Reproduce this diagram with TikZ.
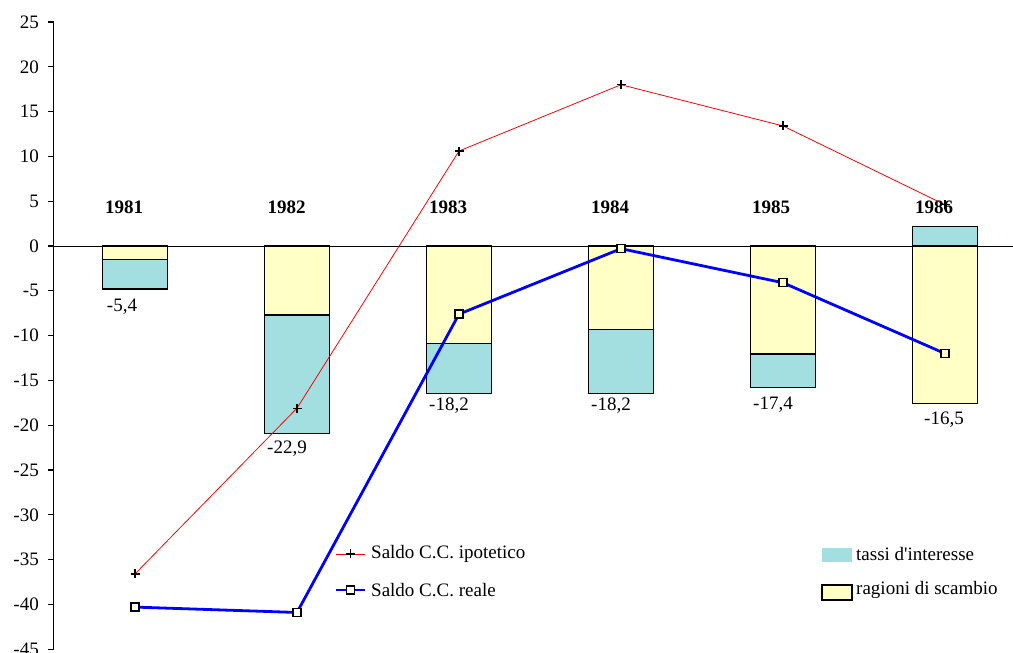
\documentclass[tikz,border=0pt]{standalone}
\usepackage{fontspec}
\setmainfont{Liberation Serif}
\definecolor{cyanfill}{RGB}{163,223,224}
\definecolor{yelfill}{RGB}{255,255,198}
\tikzset{
  lbl/.style={font=\fontsize{19}{22}\selectfont, inner sep=0pt},
  yearlbl/.style={font=\fontsize{19}{22}\selectfont\bfseries, inner sep=0pt},
  cbarbox/.style={draw=black, line width=1.2pt, fill=cyanfill},
  ybarbox/.style={draw=black, line width=1.2pt, fill=yelfill},
  axisline/.style={black, line width=1.2pt},
  zeroline/.style={black, line width=0.9pt},
  ipo/.style={red, line width=0.8pt},
  reale/.style={blue, line width=2.8pt, line join=round},
  plusmk/.style={black, line width=1.3pt},
  sqmk/.style={draw=black, line width=1.4pt, minimum size=8pt, inner sep=0pt, shape=rectangle},
}
\begin{document}
\begin{tikzpicture}[x=1pt,y=8.96pt]
\useasboundingbox (0,-45.424) rectangle (1013,27.455);
% bars
\foreach \c/\yb/\yc in {135/-1.5/-4.8, 297/-7.7/-20.9, 459/-10.9/-16.5, 621/-9.3/-16.5, 783/-12.05/-15.8} {
  \draw[ybarbox] (\c-32.5,0) rectangle (\c+32.5,\yb);
  \draw[cbarbox] (\c-32.5,\yb) rectangle (\c+32.5,\yc);
}
\draw[ybarbox] (912.5,0) rectangle (977.5,-17.6);
\draw[cbarbox] (912.5,0) rectangle (977.5,2.2);
% axes
\draw[axisline] (53.5,-45) -- (53.5,25);
\foreach \v in {25,20,...,-45} {
  \draw[axisline] (48,\v) -- (53.5,\v);
  \node[lbl, anchor=east] at (39,\v) {\v};
}
\draw[zeroline] (53.5,0) -- (1013,0);
% data points
\coordinate (h1) at (135,-36.6);
\coordinate (h2) at (297,-18.1);
\coordinate (h3) at (459,10.6);
\coordinate (h4) at (621,18.0);
\coordinate (h5) at (783,13.4);
\coordinate (h6) at (945,4.6);
\coordinate (r1) at (135,-40.3);
\coordinate (r2) at (297,-40.9);
\coordinate (r3) at (459,-7.6);
\coordinate (r4) at (621,-0.3);
\coordinate (r5) at (783,-4.1);
\coordinate (r6) at (945,-12.0);
% hypothetical balance
\draw[ipo] (h1) -- (h2) -- (h3) -- (h4) -- (h5) -- (h6);
\foreach \p in {h1,h2,h3,h4,h5,h6} {
  \draw[plusmk] ([xshift=-4.5pt]\p) -- ([xshift=4.5pt]\p) ([yshift=-4.5pt]\p) -- ([yshift=4.5pt]\p);
}
% real balance
\draw[reale] (r1) -- (r2) -- (r3) -- (r4) -- (r5) -- (r6);
\node[sqmk, fill=white] (m1) at (r1) {};
\node[sqmk, fill=white] (m2) at (r2) {};
\node[sqmk, fill=yelfill] (m3) at (r3) {};
\node[sqmk, fill=yelfill] (m4) at (r4) {};
\node[sqmk, fill=yelfill] (m5) at (r5) {};
\node[sqmk, fill=yelfill] (m6) at (r6) {};
% year labels
\node[yearlbl] (y1) at (124,4.3) {1981};
\node[yearlbl] (y2) at (286.5,4.3) {1982};
\node[yearlbl] (y3) at (448,4.3) {1983};
\node[yearlbl] (y4) at (610,4.3) {1984};
\node[yearlbl] (y5) at (771,4.3) {1985};
\node[yearlbl] (y6) at (934,4.3) {1986};
% value labels
\node[lbl] (v1) at (122,-6.8) {-5,4};
\node[lbl] (v2) at (287,-22.65) {-22,9};
\node[lbl] (v3) at (449,-17.8) {-18,2};
\node[lbl] (v4) at (611,-17.8) {-18,2};
\node[lbl] (v5) at (773,-17.7) {-17,4};
\node[lbl] (v6) at (944,-19.4) {-16,5};
% legend: lines
\coordinate (la1) at (336,-34.37);
\coordinate (lb1) at (365,-34.37);
\coordinate (la2) at (336,-38.39);
\coordinate (lb2) at (365,-38.39);
\draw[ipo] (la1) -- (lb1);
\draw[plusmk] ([xshift=10pt]la1) -- ([xshift=19pt]la1) ([xshift=14.5pt,yshift=-4.5pt]la1) -- ([xshift=14.5pt,yshift=4.5pt]la1);
\node[lbl, anchor=west] (t1) at (371,-34.37) {Saldo C.C. ipotetico};
\draw[reale] (la2) -- (lb2);
\node[sqmk, fill=white] (lm2) at ([xshift=14.5pt]la2) {};
\node[lbl, anchor=west] (t2) at (371,-38.39) {Saldo C.C. reale};
% legend: bars
\fill[cyanfill] (822,-33.7) rectangle (852,-35.27);
\node[lbl, anchor=west] (t3) at (856,-34.37) {tassi d\textquotesingle interesse};
\draw[ybarbox] (822,-37.83) rectangle (852,-39.5);
\node[lbl, anchor=west] (t4) at (856,-38.39) {ragioni di scambio};
\end{tikzpicture}
\end{document}
